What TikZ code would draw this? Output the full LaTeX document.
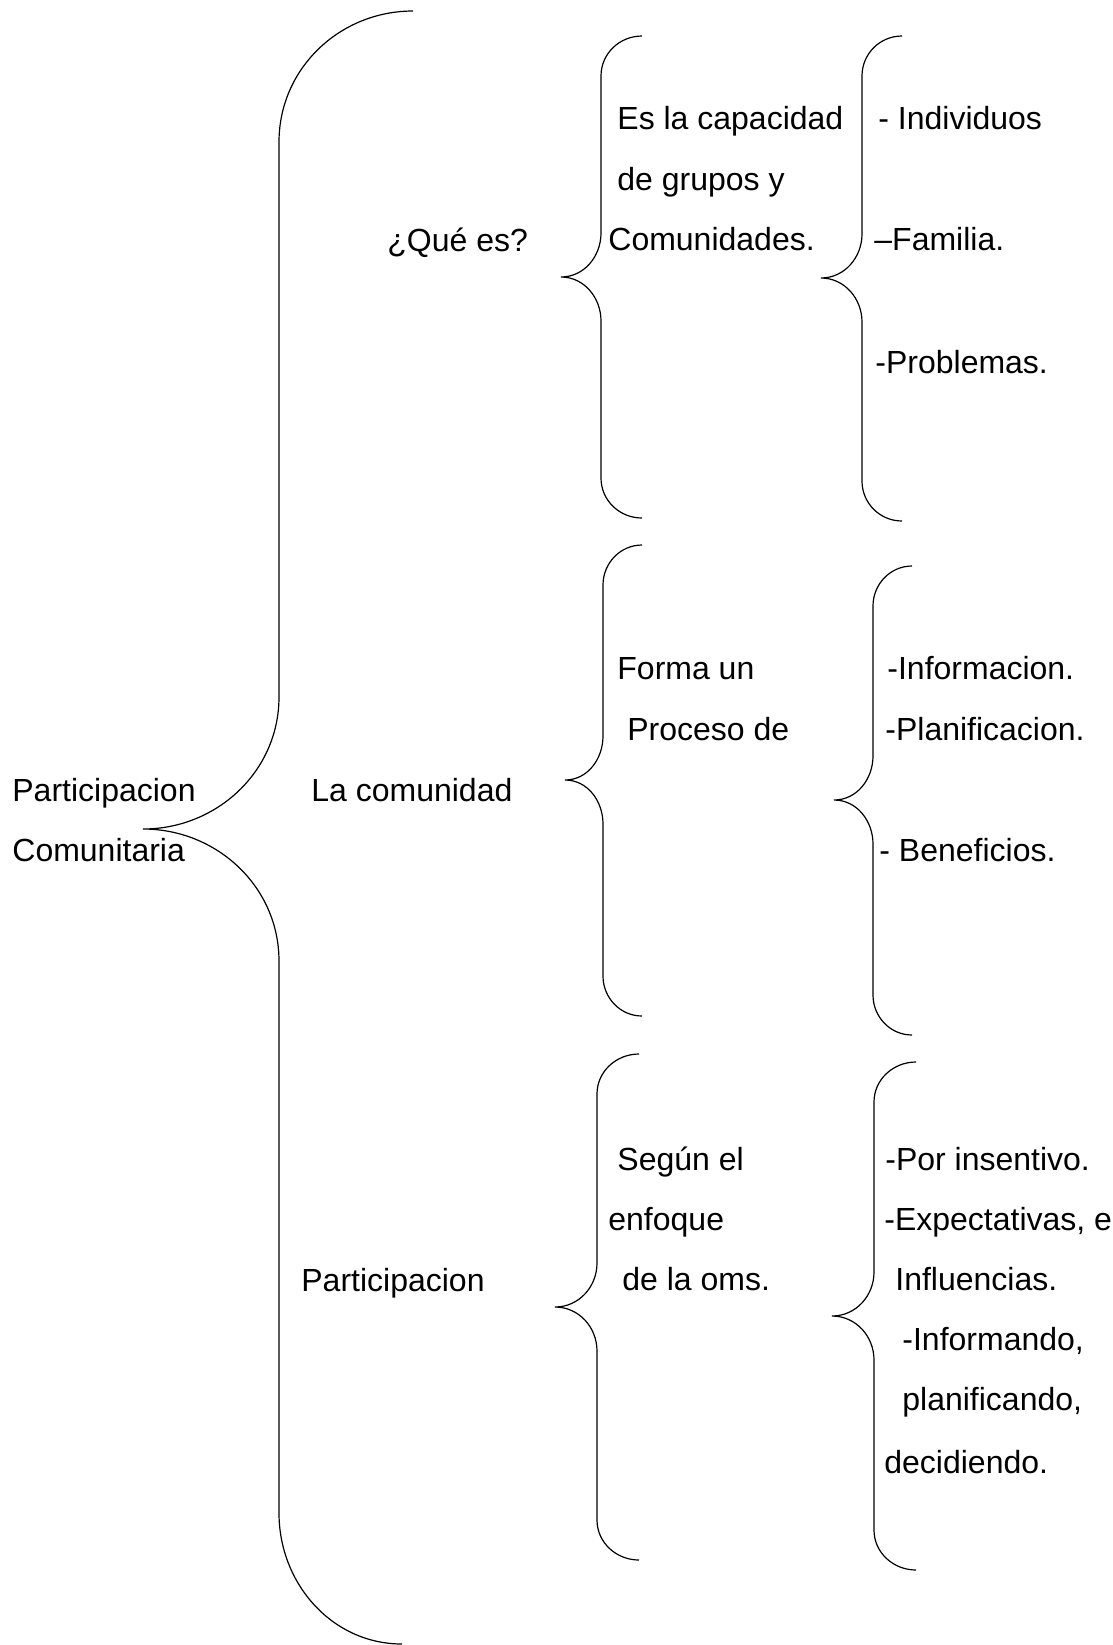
\documentclass[tikz,border=0pt]{standalone}
\usepackage{fontspec}
\setmainfont{Liberation Sans}
\tikzset{
	llave/.style={line width=0.6pt},
	texto/.style={inner sep=0pt, anchor=base west, font=\fontsize{16pt}{19pt}\selectfont},
}

\begin{document}
\begin{tikzpicture}[x=0.5pt, y=-0.5pt]
	\useasboundingbox (0,0) rectangle (1113,1645);
	\foreach \xa/\xb/\xv/\xt/\ya/\yt/\yb/\r/\m in {413/402/279/143/11/829/1644/131/132, 642/642/601/561/36/277/518/40/44, 902/902/862/821/36/278/521/40/44, 642/642/603/565/545/780/1016/40/44, 912/912/873/834/566/800/1035/40/44, 639/639/597/555/1054/1307/1560/40/44, 916/916/874/832/1062/1316/1570/40/44}
		\draw [llave] (\xa,\ya) to[out=180,in=90] (\xv,\ya+\r) -- (\xv,\yt-\m) to[out=-90,in=0] (\xt,\yt) to[out=0,in=90] (\xv,\yt+\m) -- (\xv,\yb-\r) to[out=-90,in=180] (\xb,\yb);

	\node (part1) [texto] at (12,801) {Participacion};
	\node (part2) [texto] at (12,861) {Comunitaria};

	\node (quees) [texto] at (387,251) {¿Qué es?};
	\node (lacom) [texto] at (311,801) {La comunidad};
	\node (partic) [texto] at (301,1291) {Participacion};

	\node (capa1) [texto] at (617,129) {Es la capacidad};
	\node (capa2) [texto] at (617,190) {de grupos y};
	\node (capa3) [texto] at (608,250) {Comunidades.};
	\node (indiv) [texto] at (878,129) {- Individuos};
	\node (famil) [texto] at (874,250) {–Familia.};
	\node (probl) [texto] at (875,373) {-Problemas.};

	\node (forma1) [texto] at (617,679) {Forma un};
	\node (forma2) [texto] at (627,740) {Proceso de};
	\node (infor) [texto] at (887,679) {-Informacion.};
	\node (plani) [texto] at (885,740) {-Planificacion.};
	\node (benef) [texto] at (879,861) {- Beneficios.};

	\node (segun1) [texto] at (617,1170) {Según el};
	\node (segun2) [texto] at (608,1230) {enfoque};
	\node (segun3) [texto] at (622,1290) {de la oms.};
	\node (insen) [texto] at (885,1170) {-Por insentivo.};
	\node (expec) [texto] at (884,1230) {-Expectativas, e};
	\node (influ) [texto] at (895,1290) {Influencias.};
	\node (infmd) [texto] at (902,1350) {-Informando,};
	\node (plnfc) [texto] at (902,1410) {planificando,};
	\node (decid) [texto] at (884,1473) {decidiendo.};
\end{tikzpicture}
\end{document}
